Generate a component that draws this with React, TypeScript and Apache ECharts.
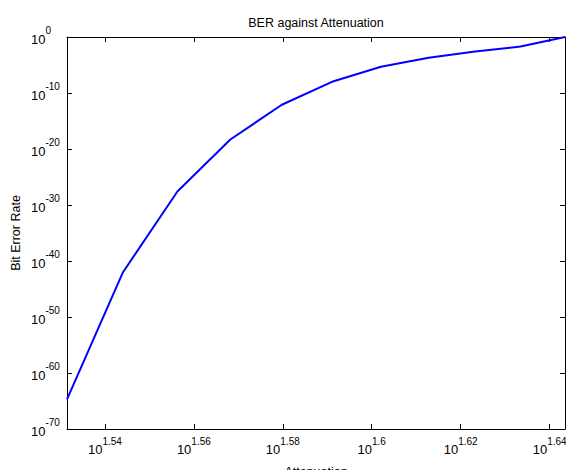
import React, { useEffect, useRef } from "react";
import * as echarts from "echarts";

const attenuation = [34, 35, 36, 37, 38, 39, 40, 41, 42, 43, 44];
// Bit error rate, given as its base-10 exponent (BER = 10^exponent)
const berExponent = [-64.7, -42.0, -27.6, -18.3, -12.1, -8.0, -5.3, -3.7, -2.6, -1.7, 0];
const xTickExponents = [1.54, 1.56, 1.58, 1.6, 1.62, 1.64];
const yTickExponents = [-70, -60, -50, -40, -30, -20, -10, 0];

export default function App() {
  const ref = useRef<HTMLDivElement>(null);
  useEffect(() => {
    document.body.style.margin = "0";
    const chart = echarts.init(ref.current!, null, { renderer: "svg" });
    const font = "'Liberation Sans', Arial, Helvetica, sans-serif";
    const rich: any = {
      b: { fontSize: 13, fontFamily: font, color: "#000", verticalAlign: "bottom", lineHeight: 20 },
      s: { fontSize: 10, fontFamily: font, color: "#000", verticalAlign: "top", lineHeight: 20 },
    };
    const xMin = Math.log10(attenuation[0]);
    const xMax = Math.log10(attenuation[attenuation.length - 1]);
    const yMin = yTickExponents[0];
    const yMax = yTickExponents[yTickExponents.length - 1];
    const lineStyle = { color: "#000", width: 1 };
    const data = attenuation.map((a, i) => [Math.log10(a), berExponent[i]]);
    chart.setOption({
      animation: false,
      backgroundColor: "#fff",
      title: {
        text: "BER against Attenuation",
        left: 316,
        textAlign: "center",
        top: 16,
        padding: 0,
        textStyle: { fontFamily: font, fontSize: 12.5, fontWeight: "normal", color: "#000" },
      },
      grid: { left: 67, top: 37, right: 1, bottom: 41, containLabel: false, outerBoundsMode: "none" },
      xAxis: [
        {
          type: "value",
          min: xMin,
          max: xMax,
          position: "bottom",
          name: "Attenuation",
          nameLocation: "middle",
          nameGap: 36,
          nameMoveOverlap: false,
          nameTextStyle: { fontFamily: font, fontSize: 12.5, color: "#000" },
          axisLine: { show: true, onZero: false, lineStyle },
          axisTick: { show: true, inside: true, length: 5, lineStyle, customValues: xTickExponents },
          axisLabel: {
            show: true,
            margin: 7,
            customValues: xTickExponents,
            formatter: (v: number) => `{b|10}{s|${Number(v.toFixed(2)).toString()}}`,
            rich,
          },
          splitLine: { show: false },
        },
        {
          type: "value",
          min: xMin,
          max: xMax,
          position: "top",
          axisLine: { show: true, onZero: false, lineStyle },
          axisTick: { show: true, inside: true, length: 5, lineStyle, customValues: xTickExponents },
          axisLabel: { show: false },
          splitLine: { show: false },
        },
      ],
      yAxis: [
        {
          type: "value",
          min: yMin,
          max: yMax,
          position: "left",
          name: "Bit Error Rate",
          nameLocation: "middle",
          nameGap: 45,
          nameMoveOverlap: false,
          nameTextStyle: { fontFamily: font, fontSize: 12.5, color: "#000" },
          axisLine: { show: true, onZero: false, lineStyle },
          axisTick: { show: true, inside: true, length: 5, lineStyle, customValues: yTickExponents },
          axisLabel: {
            show: true,
            margin: 36,
            align: "left",
            padding: [0, 0, 3, 0],
            customValues: yTickExponents,
            formatter: (v: number) => `{b|10}{s|${Math.round(v)}}`,
            rich,
          },
          splitLine: { show: false },
        },
        {
          type: "value",
          min: yMin,
          max: yMax,
          position: "right",
          axisLine: { show: true, onZero: false, lineStyle },
          axisTick: { show: true, inside: true, length: 5, lineStyle, customValues: yTickExponents },
          axisLabel: { show: false },
          splitLine: { show: false },
        },
      ],
      series: [
        {
          type: "line",
          xAxisIndex: 0,
          yAxisIndex: 0,
          data,
          showSymbol: false,
          symbol: "none",
          lineStyle: { color: "#0000ff", width: 2 },
          clip: true,
        },
      ],
    });
    return () => chart.dispose();
  }, []);
  return <div ref={ref} style={{ width: 566, height: 470 }} />;
}
